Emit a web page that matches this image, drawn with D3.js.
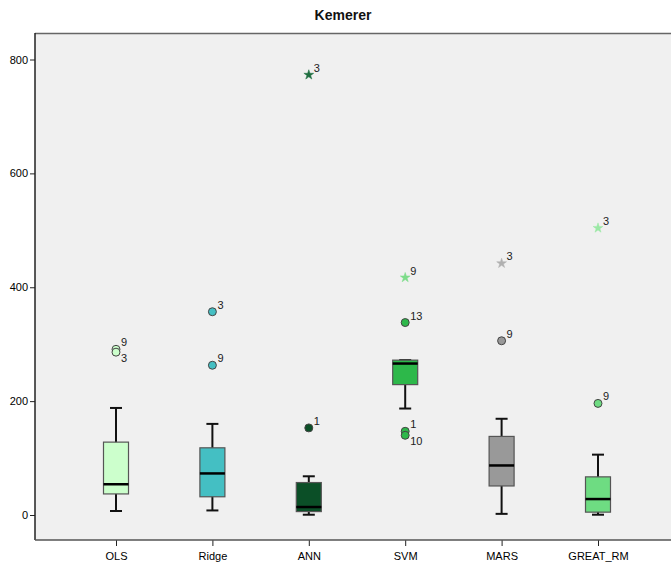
<!DOCTYPE html>
<html>
<head>
<meta charset="utf-8">
<script src="https://cdn.jsdelivr.net/npm/d3@7"></script>
<style>
  body { margin: 0; background: #fff; }
  text { font-family: "Liberation Sans", Arial, sans-serif; }
</style>
</head>
<body>
<svg id="box" width="671" height="568"></svg>
<script>
// categories and box statistics
var models = ["OLS", "Ridge", "ANN", "SVM", "MARS", "GREAT_RM"];
var whiskerLow = [7, 8, 0.5, 187, 2, 0.5];
var q1 = [37, 32, 6, 229, 51, 5];
var median = [54, 73, 14, 266, 87, 28];
var q3 = [128, 118, 57, 272, 138, 67];
var whiskerHigh = [188, 160, 68, 272, 169, 106];
var boxColors = ["#ccffcc", "#44bfc3", "#0b4f27", "#2db84a", "#999999", "#6edc82"];
var starColors = ["#99dd99", "#7fd6d6", "#1f6e40", "#7ddc8a", "#b0b0b0", "#9be8a5"];

// outliers: model, value, case id, extreme (star)
var outModel = ["OLS", "OLS", "Ridge", "Ridge", "ANN", "ANN", "SVM", "SVM", "SVM", "SVM", "MARS", "MARS", "GREAT_RM", "GREAT_RM"];
var outValue = [291, 286, 357, 263, 773, 153, 417, 338, 147, 140, 442, 306, 504, 196];
var outId = ["9", "3", "3", "9", "3", "1", "9", "13", "1", "10", "3", "9", "3", "9"];
var outStar = [false, false, false, false, true, false, true, false, false, false, true, false, true, false];

var yTicks = [0, 200, 400, 600, 800];

var svg = d3.select("svg#box"),
    plotL = 35, plotT = 33, plotR = 671, plotB = 540;

var x = d3.scalePoint()
    .domain(models)
    .range([116, 598]);

var y = d3.scaleLinear()
    .domain([0, 800])
    .range([515, 59.5]);

svg.append("text")
    .attr("x", 343)
    .attr("y", 20)
    .attr("text-anchor", "middle")
    .style("font-size", "14px")
    .style("font-weight", "bold")
    .attr("fill", "#111")
    .text("Kemerer");

svg.append("rect")
    .attr("x", plotL)
    .attr("y", plotT)
    .attr("width", plotR - plotL)
    .attr("height", plotB - plotT)
    .attr("fill", "#f0f0f0");

svg.append("line")
    .attr("x1", plotL).attr("x2", plotR)
    .attr("y1", plotT + 0.5).attr("y2", plotT + 0.5)
    .attr("stroke", "#666").attr("stroke-width", 1.5);

// axes
var yAxis = svg.append("g")
    .attr("transform", "translate(" + plotL + ",0)")
    .call(d3.axisLeft(y).tickValues(yTicks).tickSize(5).tickSizeOuter(0).tickPadding(2));
yAxis.select(".domain").remove();
yAxis.append("line")
    .attr("x1", 0).attr("x2", 0)
    .attr("y1", plotT).attr("y2", plotB)
    .attr("stroke", "#222").attr("stroke-width", 1.5);

var xAxis = svg.append("g")
    .attr("transform", "translate(0," + plotB + ")")
    .call(d3.axisBottom(x).tickSize(6).tickSizeOuter(0).tickPadding(6));
xAxis.select(".domain").remove();
xAxis.append("line")
    .attr("x1", plotL).attr("x2", plotR)
    .attr("y1", 0).attr("y2", 0)
    .attr("stroke", "#555").attr("stroke-width", 1.5);

svg.selectAll(".tick text")
    .style("font-size", "11px")
    .attr("fill", "#000");
svg.selectAll(".tick line")
    .attr("stroke", "#222");

var boxW = 25, capW = 12;

var stats = models.map(function (m, i) {
    return { m: m, lo: whiskerLow[i], q1: q1[i], med: median[i], q3: q3[i], hi: whiskerHigh[i], c: boxColors[i] };
});

var g = svg.selectAll(".box")
    .data(stats)
    .enter().append("g")
    .attr("class", "box");

// whiskers
g.append("line")
    .attr("x1", function (d) { return x(d.m); })
    .attr("x2", function (d) { return x(d.m); })
    .attr("y1", function (d) { return y(d.lo); })
    .attr("y2", function (d) { return y(d.hi); })
    .attr("stroke", "#111").attr("stroke-width", 2);

g.selectAll(".cap")
    .data(function (d) { return [d.lo, d.hi].map(function (v) { return { m: d.m, v: v }; }); })
    .enter().append("line")
    .attr("class", "cap")
    .attr("x1", function (d) { return x(d.m) - capW / 2; })
    .attr("x2", function (d) { return x(d.m) + capW / 2; })
    .attr("y1", function (d) { return y(d.v); })
    .attr("y2", function (d) { return y(d.v); })
    .attr("stroke", "#111").attr("stroke-width", 2);

g.append("rect")
    .attr("x", function (d) { return x(d.m) - boxW / 2; })
    .attr("y", function (d) { return y(d.q3); })
    .attr("width", boxW)
    .attr("height", function (d) { return y(d.q1) - y(d.q3); })
    .attr("fill", function (d) { return d.c; })
    .attr("stroke", "#555").attr("stroke-width", 1.2);

g.append("line")
    .attr("x1", function (d) { return x(d.m) - boxW / 2; })
    .attr("x2", function (d) { return x(d.m) + boxW / 2; })
    .attr("y1", function (d) { return y(d.med); })
    .attr("y2", function (d) { return y(d.med); })
    .attr("stroke", "#000").attr("stroke-width", 2.5);

// outliers
var outliers = outModel.map(function (m, i) {
    return { m: m, v: outValue[i], id: outId[i], star: outStar[i], k: models.indexOf(m) };
});
// label goes below when a close neighbour of the same box sits above it
outliers.forEach(function (d) {
    d.below = outliers.some(function (o) {
        return o !== d && o.m === d.m && o.v > d.v && y(d.v) - y(o.v) < 8;
    });
});

var star = d3.symbol().type(d3.symbolStar).size(30);

svg.selectAll(".out")
    .data(outliers)
    .enter().append("path")
    .attr("class", "out")
    .attr("transform", function (d) { return "translate(" + x(d.m) + "," + y(d.v) + ")"; })
    .attr("d", function (d) { return d.star ? star() : d3.symbol().type(d3.symbolCircle).size(50)(); })
    .attr("fill", function (d) { return d.star ? starColors[d.k] : boxColors[d.k]; })
    .attr("stroke", function (d) { return d.star ? starColors[d.k] : "#444"; })
    .attr("stroke-width", function (d) { return d.star ? 0.5 : 1; });

svg.selectAll(".outlabel")
    .data(outliers)
    .enter().append("text")
    .attr("class", "outlabel")
    .attr("x", function (d) { return x(d.m) + 5; })
    .attr("y", function (d) { return y(d.v) + (d.below ? 10 : -3); })
    .style("font-size", "11px")
    .attr("fill", "#222")
    .text(function (d) { return d.id; });
</script>
</body>
</html>
